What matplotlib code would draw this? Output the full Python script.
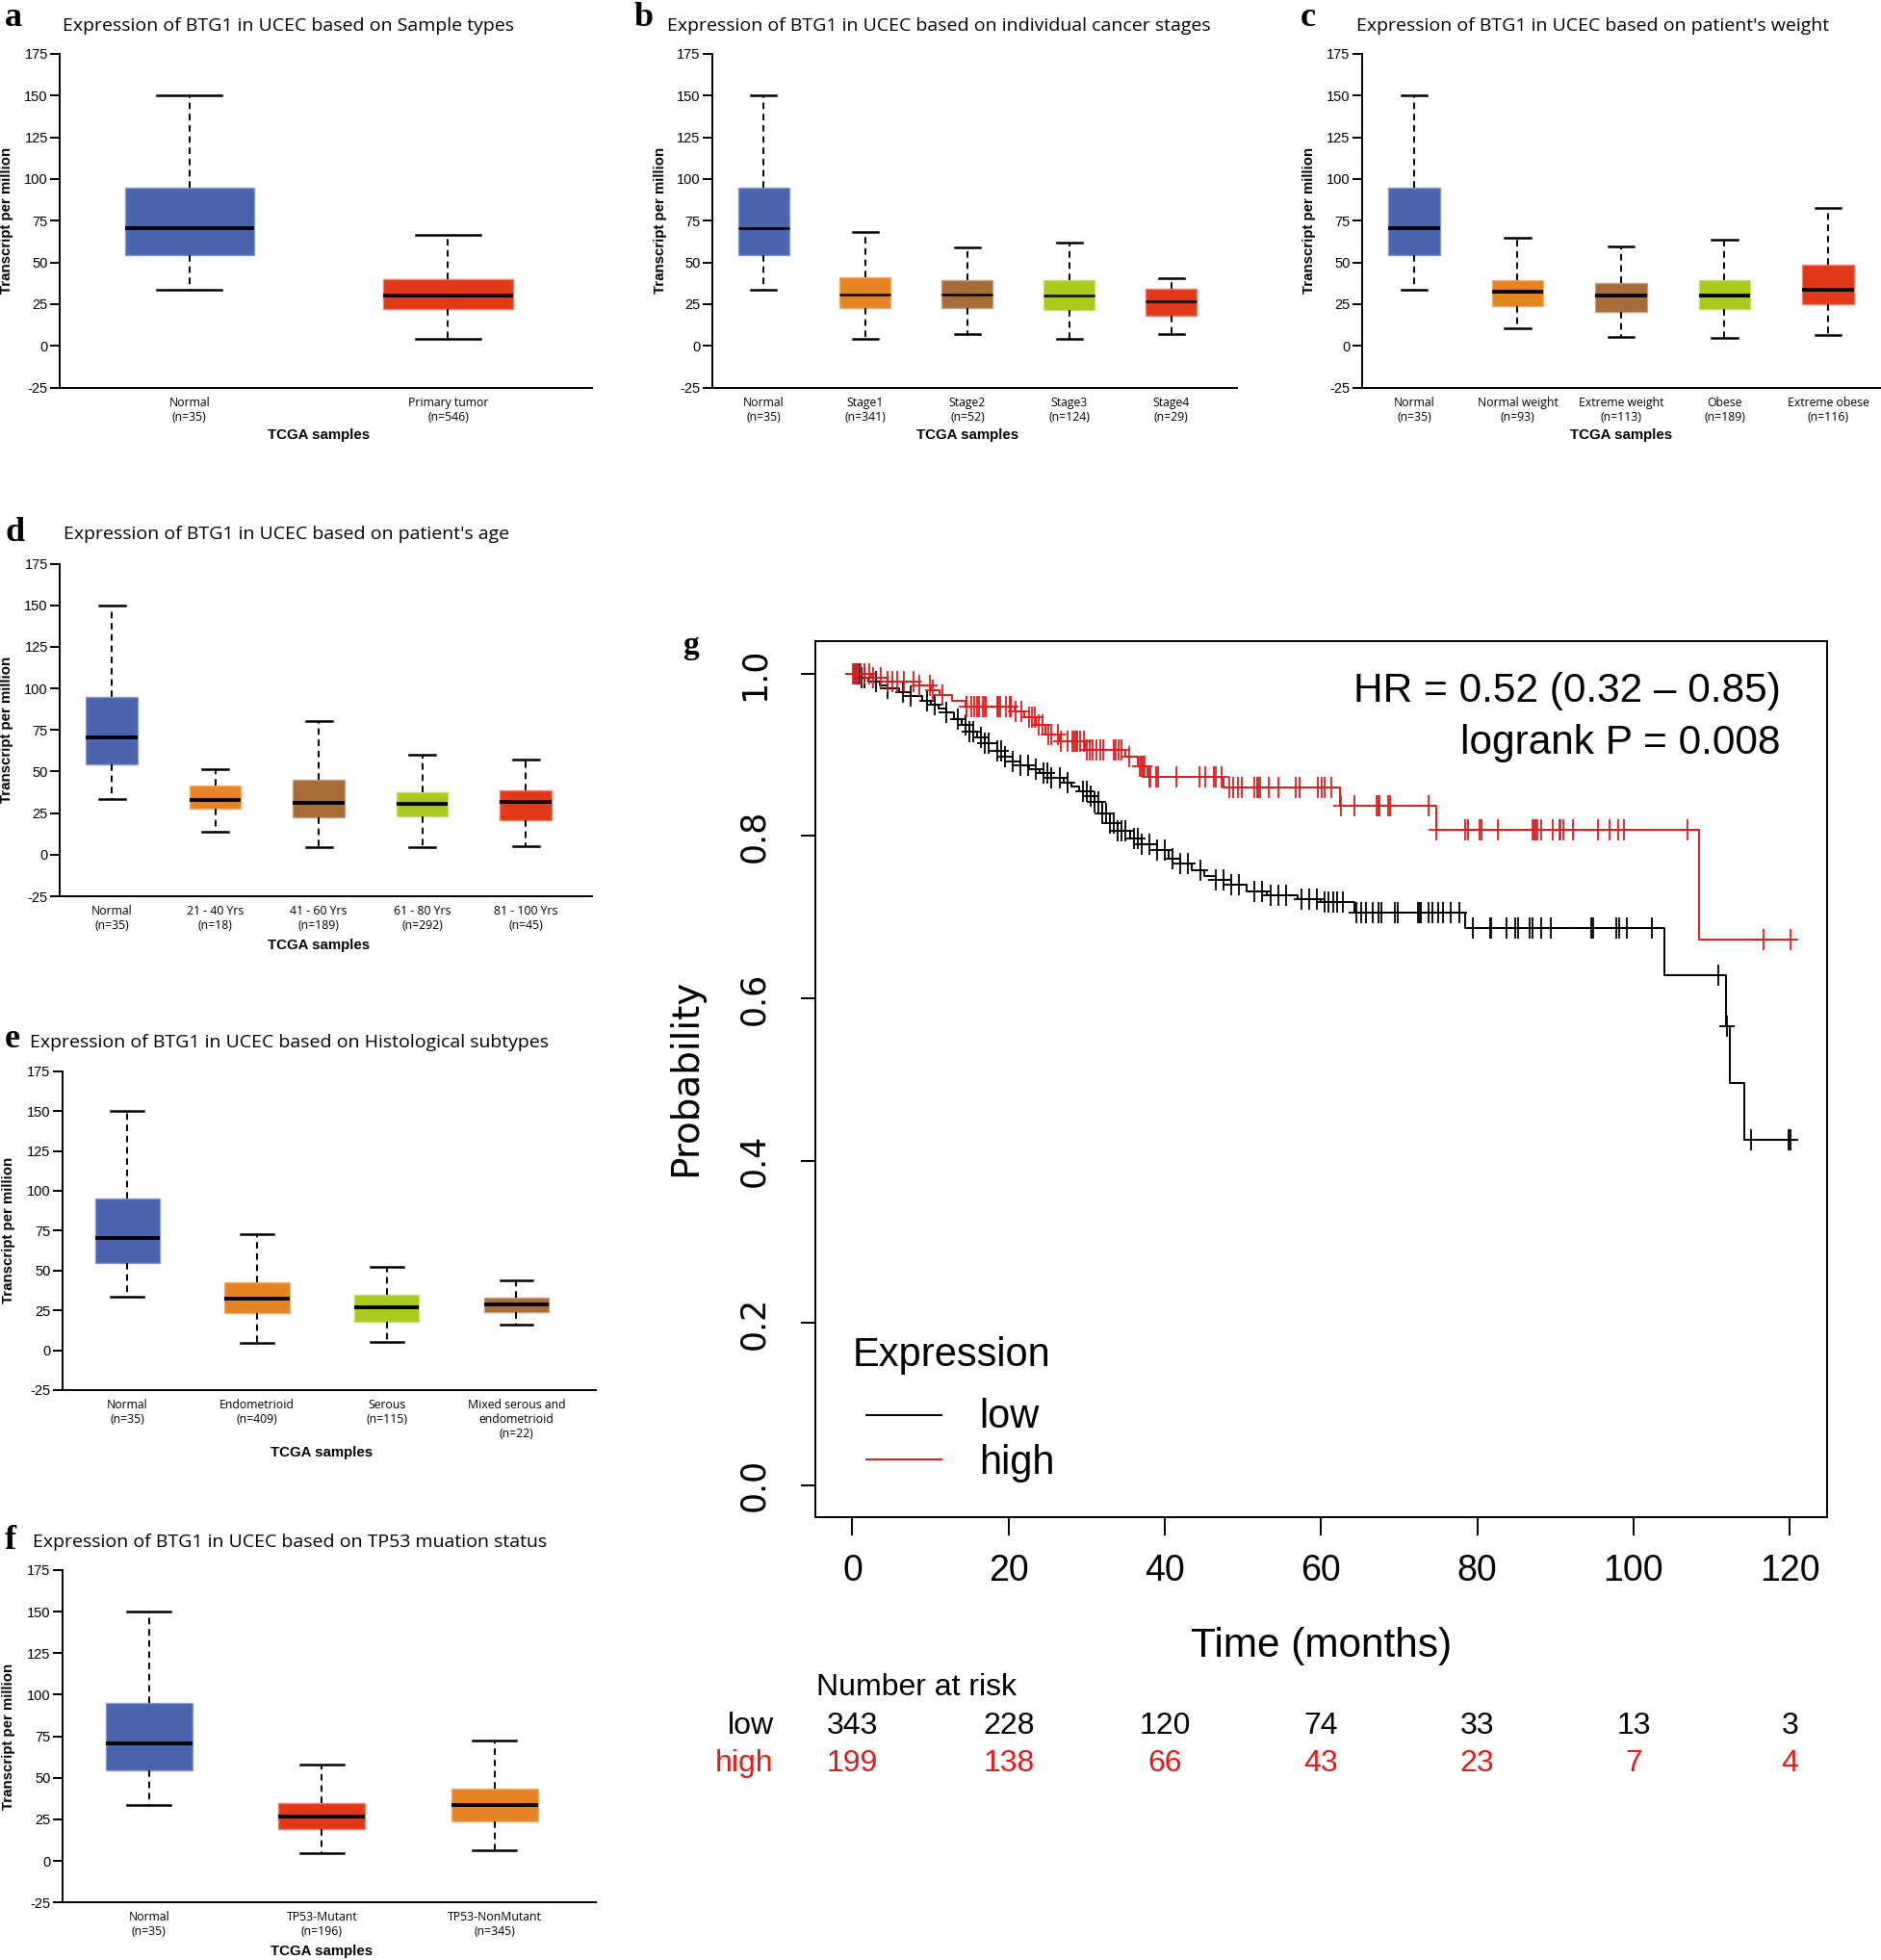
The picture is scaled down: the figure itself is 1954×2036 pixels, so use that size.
import numpy as np
import matplotlib
matplotlib.use('Agg')
import matplotlib.pyplot as plt
from matplotlib import transforms
from matplotlib.colors import to_rgb
from matplotlib.path import Path

plt.rcParams['font.family'] = ['Liberation Sans', 'DejaVu Sans']

# --- box plot data: (whisker low, q1, median, q3, whisker high) ---
normal_stats = [33.5, 54.5, 70.5, 95.0, 150.0]

a_cats = ['Normal\n(n=35)', 'Primary tumor\n(n=546)']
a_stats = [normal_stats, [4.1, 21.9, 30.1, 39.7, 66.5]]

b_cats = ['Normal\n(n=35)', 'Stage1\n(n=341)', 'Stage2\n(n=52)', 'Stage3\n(n=124)', 'Stage4\n(n=29)']
b_stats = [normal_stats, [4.1, 22.8, 30.5, 41.0, 68.2], [7.0, 22.8, 30.5, 39.1, 59.0],
           [4.1, 21.3, 29.9, 39.1, 61.7], [7.0, 18.0, 26.7, 34.3, 40.6]]

c_cats = ['Normal\n(n=35)', 'Normal weight\n(n=93)', 'Extreme weight\n(n=113)', 'Obese\n(n=189)',
          'Extreme obese\n(n=116)']
c_stats = [normal_stats, [10.5, 24.0, 32.4, 39.1, 64.7], [5.2, 20.5, 30.1, 37.8, 59.7],
           [4.6, 21.9, 30.1, 39.1, 63.5], [6.5, 24.7, 33.6, 48.8, 82.7]]

d_cats = ['Normal\n(n=35)', '21 - 40 Yrs\n(n=18)', '41 - 60 Yrs\n(n=189)', '61 - 80 Yrs\n(n=292)',
          '81 - 100 Yrs\n(n=45)']
d_stats = [normal_stats, [13.7, 27.6, 33.0, 41.4, 51.2], [4.6, 22.3, 31.1, 44.9, 80.4],
           [4.6, 22.8, 30.5, 37.8, 60.2], [5.2, 20.6, 31.8, 38.7, 57.3]]

e_cats = ['Normal\n(n=35)', 'Endometrioid\n(n=409)', 'Serous\n(n=115)', 'Mixed serous and\nendometrioid\n(n=22)']
e_stats = [normal_stats, [4.5, 23.5, 32.2, 42.6, 72.7], [4.9, 18.1, 26.6, 34.6, 52.0],
           [16.1, 24.0, 28.6, 33.2, 43.6]]

f_cats = ['Normal\n(n=35)', 'TP53-Mutant\n(n=196)', 'TP53-NonMutant\n(n=345)']
f_stats = [normal_stats, [4.4, 19.2, 26.9, 34.6, 57.7], [6.2, 24.0, 33.7, 43.7, 72.7]]

y_ticks = [-25, 0, 25, 50, 75, 100, 125, 150, 175]

# --- survival data (step times / survival after the step, censor times) ---
low_time = [0, 1, 2, 3.5, 4.5, 6, 7.5, 9, 10, 11, 12, 13, 14, 15, 16, 17, 18.5, 19.5, 20.5, 21.5,
            22.6, 24, 25.5, 27, 28, 29, 30.5, 31, 32, 33, 34, 35.5, 37, 39, 40.5, 42, 43.5, 45, 46.5,
            48.5, 50.5, 53, 57, 60, 64.3, 78.4, 103.9, 111.8, 112.3, 114.2]
low_surv = [1.0, 0.995, 0.99, 0.986, 0.982, 0.977, 0.972, 0.967, 0.962, 0.957, 0.952, 0.944, 0.937,
            0.929, 0.921, 0.914, 0.905, 0.898, 0.892, 0.887, 0.882, 0.877, 0.872, 0.866, 0.861, 0.855,
            0.849, 0.842, 0.828, 0.816, 0.806, 0.797, 0.79, 0.783, 0.772, 0.766, 0.758, 0.751, 0.746,
            0.74, 0.732, 0.727, 0.722, 0.718, 0.705, 0.686, 0.629, 0.566, 0.496, 0.425]
low_cens = [0.3, 0.6, 0.9, 1.2, 1.5, 3, 4.5, 6.5, 7.5, 9.5, 10.5, 12, 13.5, 14.5, 15, 15.5, 16.5, 17,
            17.5, 18.5, 19, 19.5, 20.5, 21.5, 22.5, 23.5, 24.5, 25, 25.5, 26.5, 27.5, 29.5, 30, 30.5,
            31, 31.5, 32, 32.5, 33, 33.5, 34, 34.5, 35, 36, 36.5, 37, 38, 39, 40, 41, 42, 43, 44.5,
            46.5, 47.5, 48.5, 49.5, 51.5, 52.5, 53.5, 54.5, 55.5, 57.5, 58.5, 59.5, 60.5, 61, 61.5, 62,
            62.8, 64.5, 65.1, 65.8, 66.6, 67.3, 67.7, 69.4, 69.8, 72.4, 72.6, 72.8, 73.7, 74.3, 75,
            75.6, 76.6, 77.7, 79.4, 81.6, 81.8, 83.7, 84.8, 85.2, 86.7, 87.1, 88.2, 89.4, 94.6, 94.8,
            97.8, 98.2, 99.2, 102.4, 110.8, 112.0, 115.0, 119.9, 120.1]

high_time = [0, 2.4, 4.5, 8.6, 10, 11.2, 12.7, 14.5, 20.8, 22, 23.5, 24.7, 26.5, 29.8, 35, 36.6,
             37.8, 47.5, 62.4, 74.7, 108.4]
high_surv = [1.0, 0.995, 0.99, 0.986, 0.98, 0.974, 0.966, 0.96, 0.954, 0.946, 0.937, 0.925, 0.917,
             0.906, 0.898, 0.886, 0.873, 0.86, 0.837, 0.807, 0.672]
high_cens = [0.1, 0.2, 0.3, 0.5, 0.7, 1.0, 1.6, 2.2, 2.7, 3.7, 4.5, 5.1, 5.7, 6.6, 7.8, 8.6, 9.9,
             10.3, 11.5, 14.6, 15.2, 15.6, 16.0, 16.2, 16.7, 16.9, 17.1, 18.5, 18.7, 18.9, 19.7, 20.1,
             20.3, 20.9, 21.6, 22.6, 23.0, 23.4, 23.8, 24.3, 25.1, 25.5, 26.3, 26.7, 27.6, 28.2, 28.4,
             28.6, 28.8, 29.2, 29.6, 30.0, 30.4, 30.8, 31.3, 31.7, 32.1, 33.5, 33.7, 34.1, 34.5, 35.4,
             36.8, 37.0, 37.2, 37.4, 38.0, 38.2, 38.9, 39.1, 41.5, 44.4, 45.2, 46.3, 46.5, 47.3, 48.3,
             48.7, 49.4, 49.8, 51.4, 51.8, 52.0, 52.2, 53.3, 54.5, 56.8, 57.2, 59.6, 60.1, 60.5, 61.3,
             62.6, 64.3, 67.05, 67.3, 67.5, 68.6, 68.8, 73.7, 74.7, 78.4, 78.8, 80.3, 80.5, 82.6, 87.1,
             87.3, 87.5, 87.7, 88.2, 89.7, 90.5, 90.7, 91.0, 92.3, 95.4, 96.9, 98.0, 98.8, 106.9,
             116.6, 120.1]

risk_times = [0, 20, 40, 60, 80, 100, 120]
low_risk = [343, 228, 120, 74, 33, 13, 3]
high_risk = [199, 138, 66, 43, 23, 7, 4]

# colours
BLUE, RED, ORANGE, BROWN, GREEN = '#4A63AC', '#E2381A', '#E48422', '#A86C38', '#A8CA1E'
KM_RED = '#E41A1C'
KM_FONT = 'Liberation Sans'

# layout is measured on a 1505 x 1568 grid
W, H = 1505.0, 1568.0


def rect(x0, y0, x1, y1):
    return [x0 / W, 1 - y1 / H, (x1 - x0) / W, (y1 - y0) / H]


def lighten(c, k=0.35):
    r, g, b = to_rgb(c)
    return (r + (1 - r) * k, g + (1 - g) * k, b + (1 - b) * k)


fig = plt.figure(figsize=(19.54, 20.36), dpi=100)


def box_panel(box, cats, stats, colors, title, letter, title_xy, letter_xy, xlab_y, med_lw=2.8):
    x0, y0, x1, y1 = box
    n = len(cats)
    ax = fig.add_axes(rect(*box))
    bstats = [dict(whislo=s[0], q1=s[1], med=s[2], q3=s[3], whishi=s[4], fliers=[]) for s in stats]
    art = ax.bxp(bstats, positions=np.arange(n), widths=0.5, patch_artist=True, showfliers=False,
                 manage_ticks=False, boxprops=dict(linewidth=1.0),
                 whiskerprops=dict(color='black', linewidth=1.4, linestyle=(0, (3.5, 2.5))),
                 capprops=dict(color='black', linewidth=1.8),
                 medianprops=dict(color='black', linewidth=med_lw, solid_capstyle='butt'))
    for p, c in zip(art['boxes'], colors):
        p.set_facecolor(c)
        p.set_edgecolor(lighten(c))
    spacing = (x1 - x0 - 12) / n
    ax.set_xlim(-0.5, -0.5 + (x1 - x0) / spacing)
    ax.set_ylim(-25, 175)
    ax.set_yticks(y_ticks)
    ax.set_yticklabels([str(v) for v in y_ticks], fontsize=10.5)
    ax.set_xticks(np.arange(n))
    ax.set_xticklabels(cats, fontfamily='Open Sans', fontsize=8.8, linespacing=1.2)
    ax.tick_params(axis='x', length=0, pad=6.5)
    ax.tick_params(axis='y', length=7, width=1.4, pad=2)
    for s in ['top', 'right']:
        ax.spines[s].set_visible(False)
    for s in ['left', 'bottom']:
        ax.spines[s].set_linewidth(1.4)
    ax.text(-0.10, 0.5, 'Transcript per million', transform=ax.transAxes, rotation=90,
            ha='center', va='center', fontweight='bold', fontsize=10.8)
    trans = transforms.blended_transform_factory(ax.transData, fig.transFigure)
    ax.text((n - 1) / 2, 1 - xlab_y / H, 'TCGA samples', transform=trans, ha='center', va='center',
            fontweight='bold', fontsize=10.8)
    fig.text(title_xy[0] / W, 1 - title_xy[1] / H, title, fontfamily='Open Sans', fontsize=14,
             va='baseline', ha='left')
    fig.text(letter_xy[0] / W, 1 - letter_xy[1] / H, letter, fontfamily='Liberation Serif',
             fontweight='bold', fontsize=26, va='baseline', ha='left')
    return ax


box_panel((48, 43, 474, 310), a_cats, a_stats, [BLUE, RED],
          'Expression of BTG1 in UCEC based on Sample types', 'a', (50, 24.4), (4, 20.5), 348)
box_panel((570, 43, 990, 310), b_cats, b_stats, [BLUE, ORANGE, BROWN, GREEN, RED],
          'Expression of BTG1 in UCEC based on individual cancer stages', 'b', (534, 24.4), (507, 20.5),
          348, med_lw=1.8)
box_panel((1090, 43, 1516, 310), c_cats, c_stats, [BLUE, ORANGE, BROWN, GREEN, RED],
          "Expression of BTG1 in UCEC based on patient's weight", 'c', (1085, 24.4), (1040, 20.5), 348)
box_panel((48, 451, 474, 717), d_cats, d_stats, [BLUE, ORANGE, BROWN, GREEN, RED],
          "Expression of BTG1 in UCEC based on patient's age", 'd', (51, 431.5), (4, 432.8), 756)
box_panel((50, 857, 477, 1112), e_cats, e_stats, [BLUE, ORANGE, GREEN, BROWN],
          'Expression of BTG1 in UCEC based on Histological subtypes', 'e', (24, 838), (4, 838), 1162)
box_panel((50, 1256, 477, 1522), f_cats, f_stats, [BLUE, RED, ORANGE],
          'Expression of BTG1 in UCEC based on TP53 muation status', 'f', (26, 1237.6), (4, 1239), 1561)

# --- Kaplan-Meier panel ---
axk = fig.add_axes(rect(652, 513, 1462, 1214))
axk.set_xlim(-4.8, 124.8)
axk.set_ylim(-0.04, 1.04)

cens_marker = Path([(-0.7, 0), (0.7, 0), (0, -1), (0, 1)],
                   [Path.MOVETO, Path.LINETO, Path.MOVETO, Path.LINETO])

for t, s, cens, col in [(low_time, low_surv, low_cens, 'black'),
                        (high_time, high_surv, high_cens, KM_RED)]:
    t = np.asarray(t, float)
    s = np.asarray(s, float)
    cens = np.asarray(cens, float)
    t_end = max(t[-1], cens.max())
    axk.step(np.append(t, t_end), np.append(s, s[-1]), where='post', color=col, lw=1.4)
    cy = s[np.searchsorted(t, cens, side='right') - 1]
    axk.plot(cens, cy, linestyle='none', marker=cens_marker, markersize=15.5,
             markeredgewidth=1.3, color=col)

for s in axk.spines.values():
    s.set_linewidth(1.4)
axk.set_xticks(risk_times)
axk.set_xticklabels([str(v) for v in risk_times], fontfamily=KM_FONT, fontsize=27)
axk.tick_params(axis='x', length=14, width=1.4, pad=13)
prob_ticks = [0.0, 0.2, 0.4, 0.6, 0.8, 1.0]
axk.set_yticks(prob_ticks)
axk.set_yticklabels(['%.1f' % v for v in prob_ticks], fontfamily='DejaVu Sans', fontsize=25,
                    rotation=90, va='center')
axk.tick_params(axis='y', length=11, width=1.4, pad=22)

axk.text(-0.128, 0.502, 'Probability', transform=axk.transAxes, rotation=90, ha='center',
         va='center', fontfamily='DejaVu Sans', fontsize=28)
axk.text(0.954, 0.943, 'HR = 0.52 (0.32 \u2013 0.85)', transform=axk.transAxes, ha='right',
         va='center', fontfamily=KM_FONT, fontsize=30.5)
axk.text(0.954, 0.884, 'logrank P = 0.008', transform=axk.transAxes, ha='right', va='center',
         fontfamily=KM_FONT, fontsize=30.5)

# legend
axk.text(0.037, 0.185, 'Expression', transform=axk.transAxes, ha='left', va='center',
         fontfamily=KM_FONT, fontsize=30)
axk.plot([0.051, 0.125], [0.117, 0.117], transform=axk.transAxes, color='black', lw=1.4)
axk.plot([0.051, 0.125], [0.066, 0.066], transform=axk.transAxes, color=KM_RED, lw=1.4)
axk.text(0.162, 0.115, 'low', transform=axk.transAxes, ha='left', va='center',
         fontfamily=KM_FONT, fontsize=30)
axk.text(0.162, 0.062, 'high', transform=axk.transAxes, ha='left', va='center',
         fontfamily=KM_FONT, fontsize=30)

fig.text(553 / W, 1 - 516 / H, 'g', ha='center', va='center',
         fontfamily='Liberation Serif', fontweight='bold', fontsize=24)

# axis title and number-at-risk table
trans = transforms.blended_transform_factory(axk.transData, fig.transFigure)
axk.text(60, 1 - 1317 / H, 'Time (months)', transform=trans, ha='center', va='center',
         fontfamily=KM_FONT, fontsize=30.5, clip_on=False)
fig.text(653 / W, 1 - 1350 / H, 'Number at risk', ha='left', va='center',
         fontfamily=KM_FONT, fontsize=23)
fig.text(619 / W, 1 - 1381 / H, 'low', ha='right', va='center',
         fontfamily=KM_FONT, fontsize=23)
fig.text(619 / W, 1 - 1411 / H, 'high', ha='right', va='center', color=KM_RED,
         fontfamily=KM_FONT, fontsize=23)
for t, nl, nh in zip(risk_times, low_risk, high_risk):
    axk.text(t, 1 - 1381 / H, str(nl), transform=trans, ha='center', va='center',
             fontfamily=KM_FONT, fontsize=23, clip_on=False)
    axk.text(t, 1 - 1411 / H, str(nh), transform=trans, ha='center', va='center', color=KM_RED,
             fontfamily=KM_FONT, fontsize=23, clip_on=False)

fig.savefig('out.png', dpi=100)
